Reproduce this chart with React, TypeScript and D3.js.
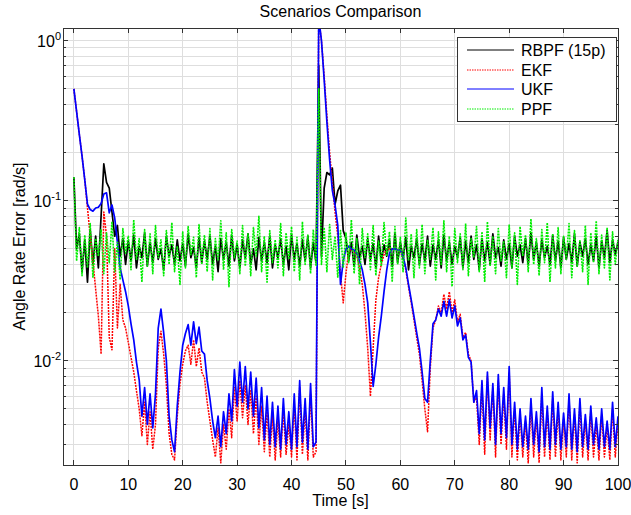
import React from 'react';
import * as d3 from 'd3';

// chart text
const title = 'Scenarios Comparison';
const xLabel = 'Time [s]';
const yLabel = 'Angle Rate Error [rad/s]';
const seriesNames = ['RBPF (15p)', 'EKF', 'UKF', 'PPF'];
const xTicks = [0, 10, 20, 30, 40, 50, 60, 70, 80, 90, 100];
const yDecades = [0, -1, -2];

// samples are every half second, t = 0 .. 100 s
const sampleStep = 0.5;

const rbpf = [
  0.14, 0.05, 0.062, 0.036, 0.057, 0.031, 0.066, 0.04, 0.06, 0.038,
  0.08, 0.17, 0.13, 0.12, 0.085, 0.06, 0.07, 0.045, 0.058, 0.04,
  0.056, 0.042, 0.061, 0.038, 0.052, 0.044, 0.063, 0.039, 0.055, 0.041,
  0.058, 0.043, 0.05, 0.037, 0.06, 0.045, 0.053, 0.04, 0.057, 0.042,
  0.054, 0.039, 0.062, 0.044, 0.051, 0.038, 0.059, 0.041, 0.056, 0.043,
  0.06, 0.04, 0.052, 0.036, 0.058, 0.043, 0.055, 0.039, 0.061, 0.042,
  0.053, 0.038, 0.057, 0.044, 0.062, 0.04, 0.05, 0.037, 0.059, 0.042,
  0.055, 0.041, 0.06, 0.038, 0.053, 0.044, 0.058, 0.04, 0.052, 0.037,
  0.061, 0.043, 0.054, 0.039, 0.057, 0.042, 0.06, 0.038, 0.055, 0.041,
  0.7, 0.045, 0.12, 0.15, 0.145, 0.16, 0.095, 0.115, 0.125, 0.065,
  0.058, 0.042, 0.055, 0.039, 0.061, 0.044, 0.052, 0.04, 0.058, 0.043,
  0.054, 0.038, 0.06, 0.042, 0.053, 0.045, 0.057, 0.039, 0.062, 0.041,
  0.055, 0.043, 0.059, 0.037, 0.052, 0.044, 0.058, 0.04, 0.054, 0.042,
  0.06, 0.039, 0.053, 0.043, 0.057, 0.038, 0.061, 0.042, 0.055, 0.04,
  0.052, 0.044, 0.059, 0.038, 0.056, 0.041, 0.06, 0.043, 0.053, 0.037,
  0.058, 0.042, 0.055, 0.04, 0.062, 0.044, 0.051, 0.039, 0.057, 0.043,
  0.054, 0.038, 0.06, 0.045, 0.053, 0.041, 0.058, 0.04, 0.063, 0.043,
  0.055, 0.039, 0.057, 0.044, 0.052, 0.04, 0.061, 0.042, 0.056, 0.038,
  0.059, 0.043, 0.054, 0.041, 0.062, 0.039, 0.055, 0.045, 0.058, 0.04,
  0.053, 0.042, 0.06, 0.038, 0.056, 0.044, 0.065, 0.041, 0.057, 0.046,
  0.055,
];

const ekf = [
  0.5, 0.36, 0.26, 0.19, 0.135, 0.09, 0.06, 0.042, 0.028, 0.019,
  0.011, 0.085, 0.06, 0.014, 0.0117, 0.05, 0.016, 0.03, 0.018, 0.016,
  0.013, 0.0105, 0.0085, 0.0065, 0.005, 0.0034, 0.0055, 0.003, 0.0048, 0.0028,
  0.004, 0.012, 0.0153, 0.011, 0.007, 0.0035, 0.0026, 0.0024, 0.0045, 0.0072,
  0.0095, 0.0115, 0.0125, 0.0095, 0.0135, 0.0092, 0.012, 0.0085, 0.0078, 0.0055,
  0.0042, 0.0032, 0.0025, 0.0038, 0.0023, 0.004, 0.0028, 0.005, 0.0033, 0.0068,
  0.0042, 0.0075, 0.0044, 0.007, 0.004, 0.0065, 0.0035, 0.006, 0.003, 0.0052,
  0.0027, 0.0048, 0.0025, 0.0045, 0.0024, 0.0042, 0.0025, 0.0048, 0.0026, 0.004,
  0.0025, 0.0052, 0.0024, 0.0068, 0.0026, 0.005, 0.0024, 0.0062, 0.0025, 0.0027,
  1.4, 1.0, 0.6, 0.34, 0.2, 0.13, 0.085, 0.06, 0.035, 0.023,
  0.035, 0.048, 0.05, 0.048, 0.045, 0.038, 0.03, 0.02, 0.012, 0.006,
  0.012, 0.024, 0.033, 0.04, 0.046, 0.05, 0.05, 0.05, 0.05, 0.049,
  0.048, 0.044, 0.037, 0.029, 0.023, 0.018, 0.014, 0.011, 0.0075, 0.005,
  0.0036, 0.009, 0.016, 0.018, 0.022, 0.02, 0.026, 0.021, 0.027, 0.02,
  0.024, 0.0175, 0.0195, 0.014, 0.015, 0.011, 0.01, 0.0055, 0.006, 0.003,
  0.007, 0.0026, 0.008, 0.0032, 0.0068, 0.0025, 0.0075, 0.003, 0.0062, 0.0028,
  0.0085, 0.0025, 0.005, 0.0024, 0.0046, 0.0025, 0.0042, 0.0023, 0.0052, 0.0025,
  0.0044, 0.0023, 0.0062, 0.0025, 0.0048, 0.0024, 0.0058, 0.0025, 0.005, 0.0024,
  0.0043, 0.0025, 0.0058, 0.0024, 0.0046, 0.0023, 0.0054, 0.0025, 0.0042, 0.0024,
  0.0048, 0.0025, 0.004, 0.0024, 0.0046, 0.0025, 0.0039, 0.0024, 0.005, 0.0025,
  0.0041,
];

const ukf = [
  0.5, 0.36, 0.26, 0.19, 0.135, 0.095, 0.088, 0.086, 0.09, 0.091,
  0.096, 0.11, 0.112, 0.084, 0.094, 0.078, 0.055, 0.038, 0.032, 0.027,
  0.022, 0.017, 0.0135, 0.0098, 0.0076, 0.0045, 0.0068, 0.004, 0.0062, 0.0038,
  0.0062, 0.016, 0.021, 0.015, 0.01, 0.0045, 0.0032, 0.0027, 0.0052, 0.0085,
  0.0125, 0.0148, 0.0168, 0.0125, 0.0175, 0.0128, 0.0162, 0.0115, 0.011, 0.0075,
  0.0058, 0.0042, 0.0033, 0.0045, 0.0029, 0.0048, 0.0035, 0.0062, 0.0042, 0.0088,
  0.0052, 0.0098, 0.0055, 0.0092, 0.005, 0.0085, 0.0045, 0.0078, 0.0038, 0.0068,
  0.0032, 0.006, 0.003, 0.0055, 0.0029, 0.0052, 0.0028, 0.0058, 0.003, 0.0048,
  0.0028, 0.0062, 0.0029, 0.0075, 0.0031, 0.0058, 0.0028, 0.0072, 0.0029, 0.0031,
  1.4, 1.0, 0.57, 0.31, 0.18, 0.116, 0.094, 0.07, 0.03, 0.042,
  0.05, 0.052, 0.05, 0.049, 0.047, 0.042, 0.037, 0.03, 0.023, 0.013,
  0.0069, 0.0095, 0.014, 0.019, 0.027, 0.037, 0.047, 0.05, 0.05, 0.049,
  0.049, 0.045, 0.038, 0.03, 0.024, 0.019, 0.015, 0.012, 0.0085, 0.0058,
  0.0055, 0.01, 0.017, 0.018, 0.021, 0.019, 0.0235, 0.019, 0.024, 0.0185,
  0.022, 0.0165, 0.0185, 0.0135, 0.0145, 0.0105, 0.0098, 0.0055, 0.0065, 0.0035,
  0.0075, 0.0032, 0.0085, 0.0038, 0.0072, 0.003, 0.0082, 0.0035, 0.0068, 0.0033,
  0.0092, 0.003, 0.0055, 0.0028, 0.005, 0.0029, 0.0045, 0.0028, 0.0058, 0.003,
  0.0048, 0.0027, 0.0068, 0.0029, 0.0052, 0.0028, 0.0064, 0.003, 0.0055, 0.0028,
  0.0047, 0.0029, 0.0062, 0.0028, 0.005, 0.0027, 0.0058, 0.0029, 0.0046, 0.0028,
  0.0052, 0.003, 0.0044, 0.0028, 0.005, 0.0029, 0.0042, 0.0028, 0.0055, 0.0029,
  0.0045,
];

const ppf = [
  0.14, 0.042, 0.068, 0.034, 0.061, 0.038, 0.072, 0.033, 0.058, 0.045,
  0.066, 0.035, 0.063, 0.041, 0.074, 0.036, 0.055, 0.032, 0.067, 0.047,
  0.06, 0.037, 0.076, 0.043, 0.058, 0.031, 0.066, 0.039, 0.062, 0.035,
  0.07, 0.044, 0.057, 0.034, 0.065, 0.04, 0.073, 0.036, 0.052, 0.03,
  0.064, 0.038, 0.069, 0.046, 0.059, 0.033, 0.071, 0.04, 0.061, 0.036,
  0.067, 0.032, 0.058, 0.042, 0.075, 0.037, 0.063, 0.029, 0.066, 0.044,
  0.056, 0.035, 0.07, 0.039, 0.062, 0.034, 0.068, 0.045, 0.08, 0.036,
  0.06, 0.031, 0.065, 0.041, 0.057, 0.038, 0.072, 0.034, 0.063, 0.043,
  0.069, 0.036, 0.059, 0.032, 0.074, 0.04, 0.061, 0.035, 0.066, 0.039,
  0.5, 0.04, 0.068, 0.036, 0.071, 0.043, 0.06, 0.033, 0.065, 0.038,
  0.063, 0.041, 0.076, 0.035, 0.058, 0.03, 0.067, 0.044, 0.062, 0.037,
  0.07, 0.034, 0.056, 0.039, 0.073, 0.045, 0.064, 0.031, 0.069, 0.04,
  0.059, 0.036, 0.078, 0.042, 0.062, 0.033, 0.066, 0.038, 0.071, 0.035,
  0.057, 0.043, 0.068, 0.032, 0.064, 0.04, 0.075, 0.036, 0.06, 0.029,
  0.067, 0.041, 0.062, 0.037, 0.072, 0.034, 0.058, 0.044, 0.069, 0.036,
  0.064, 0.031, 0.074, 0.039, 0.06, 0.035, 0.067, 0.042, 0.056, 0.033,
  0.071, 0.038, 0.063, 0.03, 0.069, 0.045, 0.061, 0.036, 0.077, 0.04,
  0.058, 0.034, 0.066, 0.041, 0.073, 0.031, 0.062, 0.038, 0.068, 0.035,
  0.06, 0.043, 0.072, 0.033, 0.065, 0.039, 0.057, 0.036, 0.07, 0.03,
  0.063, 0.041, 0.075, 0.035, 0.061, 0.038, 0.068, 0.032, 0.064, 0.04,
  0.058,
];

const FONT = '"Liberation Sans", Arial, Helvetica, sans-serif';

export default function App() {
  const width = 631;
  const height = 515;
  const plot = { left: 63, right: 618, top: 28, bottom: 465 };

  const x = d3.scaleLinear().domain([-2, 100]).range([plot.left, plot.right]);
  const y = d3.scaleLog().domain([0.00223, 1.2]).range([plot.bottom, plot.top]);

  // major + minor log ticks inside the y range
  const yMinor: number[] = [];
  yDecades.concat([-3]).forEach(e => {
    for (let m = 2; m <= 9; m++) {
      const v = m * Math.pow(10, e);
      if (v > y.domain()[0] && v < y.domain()[1]) yMinor.push(v);
    }
  });
  const yMajor = yDecades.map(e => Math.pow(10, e));

  const line = d3
    .line<number>()
    .x((_, i) => x(i * sampleStep))
    .y(d => y(d));

  const series = [
    { name: seriesNames[0], data: rbpf, color: '#000000', dash: undefined, w: 1.7 },
    { name: seriesNames[1], data: ekf, color: '#ff0000', dash: '2 1', w: 1.5 },
    { name: seriesNames[2], data: ukf, color: '#0000ff', dash: undefined, w: 1.7 },
    { name: seriesNames[3], data: ppf, color: '#00ee00', dash: '2 1', w: 1.6 },
  ];

  const axisColor = '#333333';
  const gridColor = '#dedede';

  // legend placement
  const lg = { x: 457, y: 37, w: 159, h: 84 };
  const rowY = [50, 70, 89, 109];

  return (
    <svg
      width={width}
      height={height}
      style={{ position: 'absolute', left: 0, top: 0, background: '#fff' }}
      fontFamily={FONT}
    >
      <defs>
        <clipPath id="plotClip">
          <rect x={plot.left} y={plot.top} width={plot.right - plot.left} height={plot.bottom - plot.top} />
        </clipPath>
      </defs>
      <rect x={0} y={0} width={width} height={height} fill="#fff" />

      {/* grid */}
      <g stroke={gridColor} strokeWidth={1} shapeRendering="crispEdges">
        {xTicks.map(t => (
          <line key={'gx' + t} x1={x(t)} x2={x(t)} y1={plot.top} y2={plot.bottom} />
        ))}
        {yMinor.concat(yMajor).map(v => (
          <line key={'gy' + v} x1={plot.left} x2={plot.right} y1={y(v)} y2={y(v)} />
        ))}
      </g>

      {/* data */}
      <g clipPath="url(#plotClip)" fill="none">
        {series.map(s => (
          <path
            key={s.name}
            d={line(s.data) || ''}
            stroke={s.color}
            strokeWidth={s.w}
            strokeDasharray={s.dash}
            strokeLinejoin="round"
          />
        ))}
      </g>

      {/* axes box and ticks */}
      <g stroke={axisColor} strokeWidth={1} shapeRendering="crispEdges">
        <rect
          x={plot.left}
          y={plot.top}
          width={plot.right - plot.left}
          height={plot.bottom - plot.top}
          fill="none"
        />
        {xTicks.map(t => (
          <g key={'tx' + t}>
            <line x1={x(t)} x2={x(t)} y1={plot.bottom} y2={plot.bottom - 5} />
            <line x1={x(t)} x2={x(t)} y1={plot.top} y2={plot.top + 5} />
          </g>
        ))}
        {yMajor.map(v => (
          <g key={'tyM' + v}>
            <line x1={plot.left} x2={plot.left + 5} y1={y(v)} y2={y(v)} />
            <line x1={plot.right} x2={plot.right - 5} y1={y(v)} y2={y(v)} />
          </g>
        ))}
        {yMinor.map(v => (
          <g key={'tym' + v}>
            <line x1={plot.left} x2={plot.left + 3} y1={y(v)} y2={y(v)} />
            <line x1={plot.right} x2={plot.right - 3} y1={y(v)} y2={y(v)} />
          </g>
        ))}
      </g>

      {/* tick labels */}
      <g fontSize={16} fill="#000">
        {xTicks.map(t => (
          <text key={'lx' + t} x={x(t)} y={490} textAnchor="middle">
            {t}
          </text>
        ))}
        {yDecades.map(e => (
          <text key={'ly' + e} x={61} y={y(Math.pow(10, e)) + 6} textAnchor="end">
            10
            <tspan dy={-7} fontSize={11}>
              {String(e)}
            </tspan>
          </text>
        ))}
      </g>

      {/* titles */}
      <text x={(plot.left + plot.right) / 2} y={17} textAnchor="middle" fontSize={16}>
        {title}
      </text>
      <text x={(plot.left + plot.right) / 2} y={506} textAnchor="middle" fontSize={16}>
        {xLabel}
      </text>
      <text
        transform={`translate(25, ${(plot.top + plot.bottom) / 2}) rotate(-90)`}
        textAnchor="middle"
        fontSize={16}
      >
        {yLabel}
      </text>

      {/* legend */}
      <g>
        <rect x={lg.x} y={lg.y} width={lg.w} height={lg.h} fill="#fff" stroke={axisColor} shapeRendering="crispEdges" />
        {series.map((s, i) => (
          <g key={'lg' + s.name}>
            <line
              x1={467}
              x2={514}
              y1={rowY[i]}
              y2={rowY[i]}
              stroke={s.color}
              strokeWidth={1}
              strokeDasharray={s.dash === undefined ? undefined : '1.5 1'}
            />
            <text x={521} y={rowY[i] + 6} fontSize={16}>
              {s.name}
            </text>
          </g>
        ))}
      </g>
    </svg>
  );
}
